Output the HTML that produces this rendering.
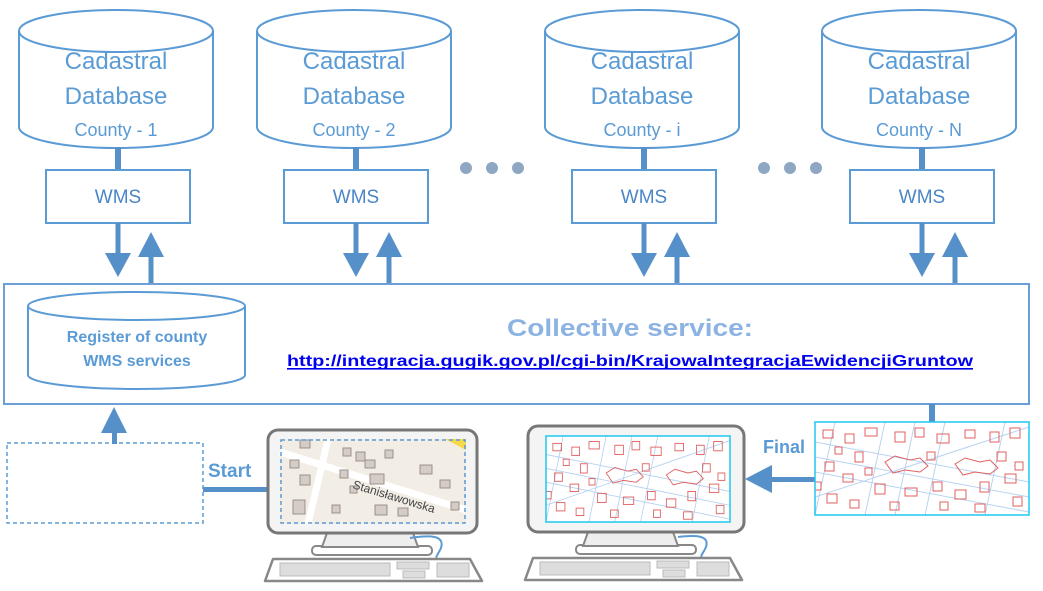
<!DOCTYPE html>
<html><head><meta charset="utf-8"><style>
html,body{margin:0;padding:0;background:#fff;}
svg{display:block;}
</style></head><body>
<svg width="1043" height="591" viewBox="0 0 1043 591" xmlns="http://www.w3.org/2000/svg">
<defs>
<g id="cyl">
<path d="M0,26 L0,122 A97,21 0 0 0 194,122 L194,26" fill="#fff" stroke="#5b9bd5" stroke-width="2"/>
<ellipse cx="97" cy="26" rx="97" ry="21" fill="#fff" stroke="#5b9bd5" stroke-width="2"/>
</g>
<g id="arr">
<rect x="-2.5" y="0" width="5" height="30" fill="#5590c8"/>
<polygon points="-13,30 13,30 0,54" fill="#5590c8"/>
<rect x="30.5" y="26" width="5" height="36" fill="#5590c8"/>
<polygon points="20,34 46,34 33,9" fill="#5590c8"/>
</g>
<g id="redmap">
<g stroke="#b9d3f0" stroke-width="1" fill="none">
<path d="M0,20 L214,60 M0,50 L214,90 M20,0 L0,93 M70,0 L50,93 M130,0 L110,93 M190,0 L170,93 M0,75 L214,5 M0,35 L214,75 M100,0 L80,93"/>
</g>
<g stroke="#e06060" stroke-width="1" fill="none">
<rect x="8" y="8" width="10" height="8"/><rect x="30" y="12" width="9" height="9"/><rect x="50" y="6" width="12" height="8"/>
<rect x="80" y="10" width="10" height="10"/><rect x="100" y="6" width="9" height="9"/><rect x="122" y="12" width="12" height="9"/>
<rect x="150" y="8" width="10" height="8"/><rect x="175" y="10" width="9" height="10"/><rect x="195" y="6" width="10" height="10"/>
<path d="M70,40 l10,-6 l15,4 l10,-2 l8,8 l-8,6 l-15,-2 l-12,3 z"/><path d="M140,42 l10,-6 l15,4 l10,-2 l8,8 l-8,6 l-15,-2 l-12,3 z"/>
<rect x="10" y="40" width="9" height="9"/><rect x="28" y="52" width="10" height="8"/><rect x="40" y="30" width="8" height="10"/>
<rect x="60" y="62" width="10" height="10"/><rect x="90" y="66" width="12" height="8"/><rect x="118" y="60" width="9" height="9"/>
<rect x="140" y="68" width="11" height="9"/><rect x="165" y="60" width="9" height="10"/><rect x="190" y="52" width="11" height="9"/>
<rect x="12" y="72" width="10" height="9"/><rect x="35" y="78" width="9" height="8"/><rect x="198" y="75" width="9" height="9"/>
<rect x="20" y="25" width="7" height="7"/><rect x="112" y="30" width="8" height="8"/><rect x="182" y="30" width="9" height="9"/>
<rect x="75" y="80" width="9" height="8"/><rect x="125" y="80" width="8" height="8"/><rect x="160" y="82" width="10" height="8"/>
<rect x="50" y="46" width="7" height="7"/><rect x="200" y="40" width="8" height="8"/><rect x="0" y="60" width="6" height="8"/>
</g>
</g>
<g id="kbd">
<path d="M8,0 L205,0 L217,22 L0,22 Z" fill="#fff" stroke="#888" stroke-width="2.5" stroke-linejoin="round"/>
<rect x="15" y="4" width="110" height="13" fill="#ddd" stroke="#bbb"/>
<rect x="132" y="3" width="32" height="7" fill="#ddd" stroke="#bbb"/>
<rect x="138" y="12" width="22" height="7" fill="#ddd" stroke="#bbb"/>
<rect x="172" y="4" width="32" height="14" fill="#ddd" stroke="#bbb"/>
</g>
</defs>

<use href="#cyl" x="19" y="5"/>
<use href="#cyl" x="257" y="5"/>
<use href="#cyl" x="545" y="5"/>
<use href="#cyl" x="822" y="5"/>
<g font-family="Liberation Sans, sans-serif" fill="#5b9bd5" text-anchor="middle">
<g font-size="24">
<text x="116" y="69">Cadastral</text><text x="116" y="104">Database</text>
<text x="354" y="69">Cadastral</text><text x="354" y="104">Database</text>
<text x="642" y="69">Cadastral</text><text x="642" y="104">Database</text>
<text x="919" y="69">Cadastral</text><text x="919" y="104">Database</text>
</g>
<g font-size="18">
<text x="116" y="136">County - 1</text><text x="354" y="136">County - 2</text>
<text x="642" y="136">County - i</text><text x="919" y="136">County - N</text>
</g>
</g>

<g fill="#5590c8">
<rect x="115" y="147" width="6" height="24"/><rect x="353" y="147" width="6" height="24"/>
<rect x="641" y="147" width="6" height="24"/><rect x="919" y="147" width="6" height="24"/>
</g>
<g fill="#fff" stroke="#5b9bd5" stroke-width="2">
<rect x="46" y="170" width="144" height="53"/><rect x="284" y="170" width="144" height="53"/>
<rect x="572" y="170" width="144" height="53"/><rect x="850" y="170" width="144" height="53"/>
</g>
<g font-family="Liberation Sans, sans-serif" font-size="19" fill="#4a86c5" text-anchor="middle">
<text x="118" y="203">WMS</text><text x="356" y="203">WMS</text><text x="644" y="203">WMS</text><text x="922" y="203">WMS</text>
</g>
<g fill="#8fa7c3">
<circle cx="466" cy="168" r="6"/><circle cx="492" cy="168" r="6"/><circle cx="518" cy="168" r="6"/>
<circle cx="764" cy="168" r="6"/><circle cx="790" cy="168" r="6"/><circle cx="816" cy="168" r="6"/>
</g>
<use href="#arr" x="118" y="223"/><use href="#arr" x="356" y="223"/>
<use href="#arr" x="644" y="223"/><use href="#arr" x="922" y="223"/>

<rect x="4" y="284" width="1025" height="120" fill="#fff" stroke="#6c9fd8" stroke-width="2"/>
<path d="M28,306 L28,375 A108.5,14 0 0 0 245,375 L245,306" fill="#fff" stroke="#5b9bd5" stroke-width="2"/>
<ellipse cx="136.5" cy="306" rx="108.5" ry="14" fill="#fff" stroke="#5b9bd5" stroke-width="2"/>
<g font-family="Liberation Sans, sans-serif" font-weight="bold" font-size="16" fill="#5b9bd5" text-anchor="middle">
<text x="137" y="342">Register of county</text><text x="137" y="366">WMS services</text>
</g>
<text x="507" y="336" font-family="Liberation Sans, sans-serif" font-weight="bold" font-size="24" fill="#8db3e2" textLength="246" lengthAdjust="spacingAndGlyphs">Collective service:</text>
<text x="287" y="366" font-family="Liberation Sans, sans-serif" font-weight="bold" font-size="16" fill="#0000ee" textLength="686" lengthAdjust="spacingAndGlyphs">http://integracja.gugik.gov.pl/cgi-bin/KrajowaIntegracjaEwidencjiGruntow</text>
<rect x="287" y="368" width="686" height="1.6" fill="#0000ee"/>

<rect x="7" y="443" width="196" height="80" fill="#fff" stroke="#5b9bd5" stroke-width="1.5" stroke-dasharray="4,3"/>
<rect x="112" y="425" width="5" height="19" fill="#5590c8"/>
<polygon points="101,433 127,433 114,407" fill="#5590c8"/>
<text x="208" y="477" font-family="Liberation Sans, sans-serif" font-weight="bold" font-size="19" fill="#5b9bd5">Start</text>
<rect x="203" y="487" width="66" height="5" fill="#5590c8"/>

<rect x="312" y="546" width="120" height="9" rx="4" fill="#fff" stroke="#888" stroke-width="2"/>
<path d="M327,533 L322,547 L418,547 L413,533 Z" fill="#eee" stroke="#888" stroke-width="2"/>
<path d="M410,538 C430,535 445,535 441,548 C438,555 435,556 437,560" fill="none" stroke="#5b9bd5" stroke-width="2"/>
<rect x="268" y="430" width="209" height="103" rx="10" fill="#f4f4f4" stroke="#777" stroke-width="3"/>
<rect x="280" y="439" width="186" height="85" fill="#f2eee6"/>
<g stroke="#fff" stroke-width="7">
<path d="M280,452 L466,510 M328,439 L308,524"/>
</g>
<g fill="#d5ccc6" stroke="#9a918c" stroke-width="1">
<rect x="290" y="460" width="9" height="8"/><rect x="293" y="500" width="12" height="14"/><rect x="343" y="448" width="8" height="8"/>
<rect x="356" y="452" width="9" height="9"/><rect x="340" y="470" width="8" height="8"/><rect x="350" y="486" width="7" height="7"/>
<rect x="365" y="460" width="10" height="8"/><rect x="370" y="474" width="14" height="10"/><rect x="385" y="450" width="8" height="8"/>
<rect x="300" y="475" width="10" height="10"/><rect x="375" y="505" width="12" height="10"/><rect x="398" y="508" width="10" height="8"/>
<rect x="420" y="465" width="12" height="9"/><rect x="440" y="480" width="10" height="8"/><rect x="451" y="502" width="8" height="8"/>
<rect x="300" y="440" width="10" height="8"/><rect x="332" y="505" width="8" height="8"/>
</g>
<polygon points="445,439 466,439 466,450" fill="#f5d94a"/>
<text x="352" y="488" font-family="Liberation Sans, sans-serif" font-size="12" fill="#444" transform="rotate(17 352 488)">Stanisławowska</text>
<rect x="281" y="440" width="184" height="83" fill="none" stroke="#5b9bd5" stroke-width="1.5" stroke-dasharray="4,3"/>
<use href="#kbd" x="265" y="559"/>

<rect x="576" y="545" width="120" height="9" rx="4" fill="#fff" stroke="#888" stroke-width="2"/>
<path d="M588,532 L583,546 L678,546 L673,532 Z" fill="#eee" stroke="#888" stroke-width="2"/>
<path d="M678,537 C695,535 710,535 706,547 C703,554 700,555 702,558" fill="none" stroke="#5b9bd5" stroke-width="2"/>
<rect x="528" y="426" width="216" height="106" rx="10" fill="#f4f4f4" stroke="#777" stroke-width="3"/>
<svg x="546" y="436" width="184" height="86" viewBox="0 0 214 93" preserveAspectRatio="none"><rect width="214" height="93" fill="#fff"/><use href="#redmap"/></svg>
<rect x="546" y="436" width="184" height="86" fill="none" stroke="#1ec8f0" stroke-width="1.5"/>
<use href="#kbd" x="525" y="558"/>

<text x="763" y="453" font-family="Liberation Sans, sans-serif" font-weight="bold" font-size="18" fill="#5b9bd5">Final</text>
<rect x="770" y="477" width="46" height="5" fill="#5590c8"/>
<polygon points="745,479 772,465 772,493" fill="#5590c8"/>
<rect x="929" y="404" width="6" height="19" fill="#5590c8"/>
<svg x="815" y="422" width="214" height="93"><rect width="214" height="93" fill="#fff"/><use href="#redmap"/></svg>
<rect x="815" y="422" width="214" height="93" fill="none" stroke="#1ec8f0" stroke-width="1.5"/>
</svg>
</body></html>
